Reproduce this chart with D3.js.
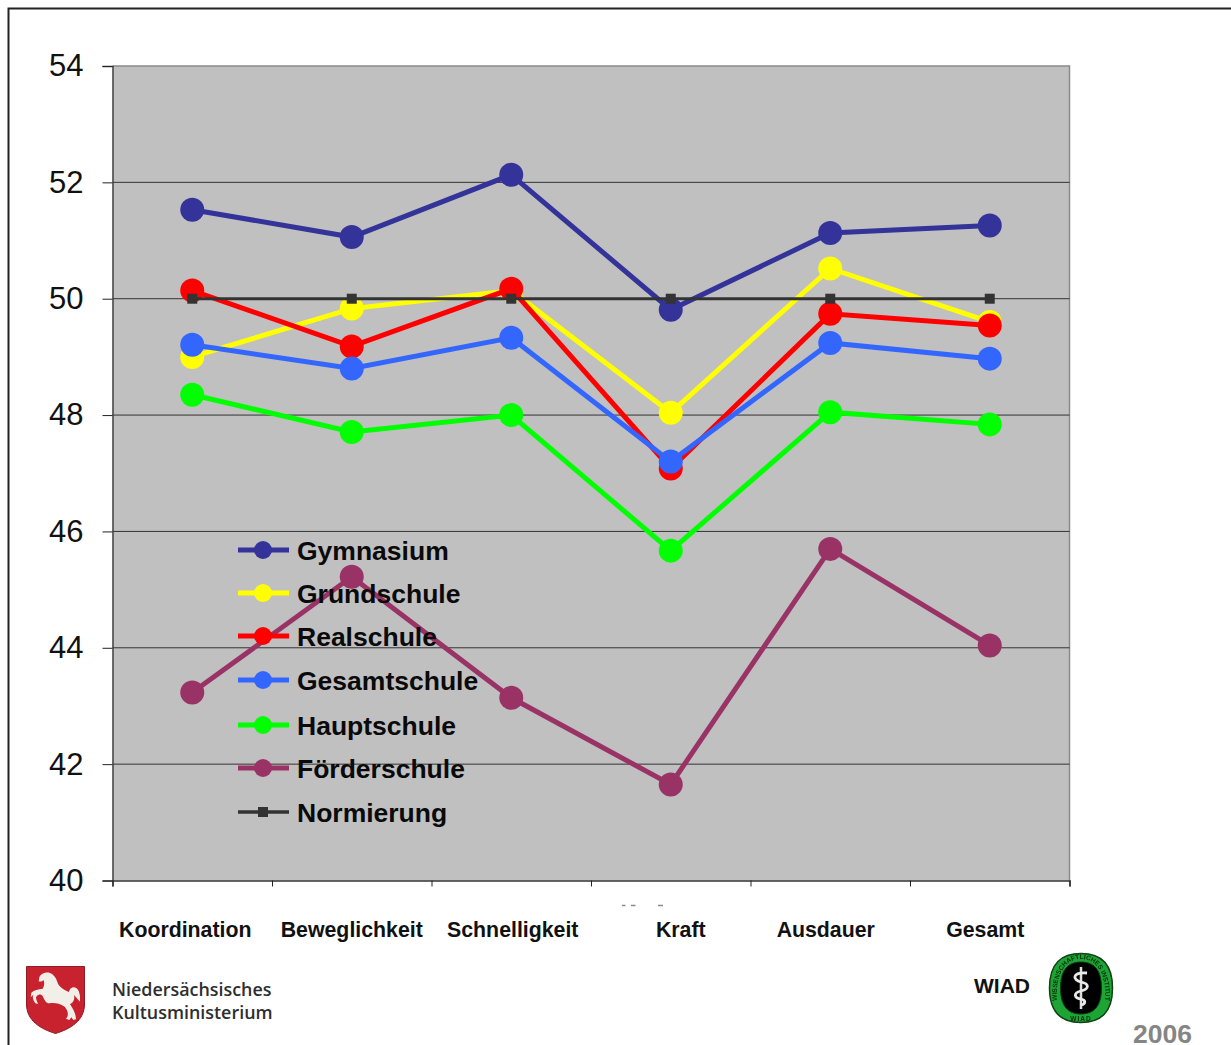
<!DOCTYPE html>
<html>
<head>
<meta charset="utf-8">
<script src="https://cdn.jsdelivr.net/npm/d3@7"></script>
<style>
    html, body { margin: 0; padding: 0; background: #fff; overflow: hidden; }
    svg { display: block; font-family: "Liberation Sans", Arial, sans-serif; }
</style>
</head>
<body>
<svg id="chart-container" width="1231" height="1045"></svg>
<script>
// Werte je Schulform, Reihenfolge wie in categories
const categories = ["Koordination", "Beweglichkeit", "Schnelligkeit", "Kraft", "Ausdauer", "Gesamt"];
const gymnasium = [51.53, 51.06, 52.13, 49.81, 51.13, 51.26];
const grundschule = [49.0, 49.83, 50.14, 48.04, 50.52, 49.6];
const realschule = [50.14, 49.18, 50.17, 47.08, 49.74, 49.54];
const gesamtschule = [49.21, 48.8, 49.33, 47.2, 49.24, 48.97];
const hauptschule = [48.35, 47.71, 48.0, 45.67, 48.05, 47.84];
const foerderschule = [43.23, 45.22, 43.14, 41.65, 45.7, 44.04];
const normierung = [50, 50, 50, 50, 50, 50];
const yTicks = [40, 42, 44, 46, 48, 50, 52, 54];

const seriesNames = ["Gymnasium", "Grundschule", "Realschule", "Gesamtschule", "Hauptschule", "Förderschule", "Normierung"];
const seriesValues = [gymnasium, grundschule, realschule, gesamtschule, hauptschule, foerderschule, normierung];
const seriesColors = ["#333399", "#FFFF00", "#FF0000", "#3366FF", "#00FF00", "#993366", "#333333"];

const svg = d3.select("#chart-container");
const plot = {left: 112.5, right: 1069.5, top: 66, bottom: 880.5};

const scaleX = d3.scaleBand().domain(categories).range([plot.left, plot.right]);
const scaleY = d3.scaleLinear().domain([40, 54]).range([plot.bottom, plot.top]);
const scaleEdges = d3.scaleLinear().domain([0, categories.length]).range([plot.left, plot.right]);

// leichte Unschärfe für die eingesetzten Logos
svg.append("filter").attr("id", "logo-soft")
    .append("feGaussianBlur").attr("stdDeviation", 0.45);

// Rahmen um die ganze Folie (rechts und unten abgeschnitten)
svg.append("path")
    .attr("d", "M8.5,1045V8.5H1231")
    .attr("fill", "none")
    .attr("stroke", "#222")
    .attr("stroke-width", 2);

// Zeichenfläche
svg.append("rect")
    .attr("x", plot.left)
    .attr("y", plot.top)
    .attr("width", plot.right - plot.left)
    .attr("height", plot.bottom - plot.top)
    .attr("fill", "#C0C0C0");
svg.append("path")
    .attr("d", `M${plot.left},${plot.top}H${plot.right}V${plot.bottom}`)
    .attr("fill", "none")
    .attr("stroke", "#8a8a8a")
    .attr("stroke-width", 1.5);

// Gitterlinien
svg.append("g")
    .selectAll("line")
    .data(yTicks.filter(d => d > 40 && d < 54))
    .enter()
    .append("line")
    .attr("x1", plot.left)
    .attr("x2", plot.right)
    .attr("y1", d => scaleY(d))
    .attr("y2", d => scaleY(d))
    .attr("stroke", "#333")
    .attr("stroke-width", 1);

// Achsen
const axisY = svg.append("g")
    .attr("transform", `translate(${plot.left},0)`)
    .call(d3.axisLeft(scaleY).tickValues(yTicks).tickSize(10).tickPadding(19).tickFormat(d3.format("d")));
axisY.selectAll("text").attr("font-size", 31).attr("font-family", "Liberation Sans").attr("fill", "#111");
axisY.selectAll("line").attr("stroke", "#222");
axisY.select(".domain").attr("stroke", "#444").attr("stroke-width", 1.5);

const axisX = svg.append("g")
    .attr("transform", `translate(0,${plot.bottom})`)
    .call(d3.axisBottom(scaleEdges).ticks(categories.length).tickSize(6).tickFormat(""));
axisX.selectAll("line").attr("stroke", "#222");
axisX.select(".domain").attr("stroke", "#333").attr("stroke-width", 1.5);

// Kategorien stehen nicht exakt mittig unter den Abschnitten
const labelShift = [-7, 0, 1.5, 10, -4.5, -4.5];
svg.append("g")
    .selectAll("text")
    .data(categories)
    .enter()
    .append("text")
    .attr("x", (d, i) => scaleX(d) + scaleX.bandwidth() / 2 + labelShift[i])
    .attr("y", 937)
    .attr("text-anchor", "middle")
    .attr("font-size", 21.3)
    .attr("font-weight", "bold")
    .attr("fill", "#111")
    .text(d => d);

// Linien mit Punkten, jede Reihe über der vorherigen
const line = d3.line()
    .x((d, i) => scaleX(categories[i]) + scaleX.bandwidth() / 2)
    .y(d => scaleY(d));

seriesValues.forEach((values, s) => {
    const isNorm = s === seriesValues.length - 1;
    const group = svg.append("g");
    group.append("path")
        .datum(values)
        .attr("fill", "none")
        .attr("stroke", seriesColors[s])
        .attr("stroke-width", isNorm ? 3 : 5)
        .attr("d", line);
    if (isNorm) {
        group.selectAll("rect")
            .data(values)
            .enter()
            .append("rect")
            .attr("x", (d, i) => scaleX(categories[i]) + scaleX.bandwidth() / 2 - 5)
            .attr("y", d => scaleY(d) - 5)
            .attr("width", 10)
            .attr("height", 10)
            .attr("fill", seriesColors[s]);
    } else {
        group.selectAll("circle")
            .data(values)
            .enter()
            .append("circle")
            .attr("cx", (d, i) => scaleX(categories[i]) + scaleX.bandwidth() / 2)
            .attr("cy", d => scaleY(d))
            .attr("r", 12)
            .attr("fill", seriesColors[s]);
    }
});

// Legende innerhalb der Zeichenfläche
const legendY = [550, 593, 636, 680, 725, 768, 812];
const legend = svg.append("g");
seriesNames.forEach((name, s) => {
    const row = legend.append("g").attr("transform", `translate(0,${legendY[s]})`);
    const isNorm = s === seriesNames.length - 1;
    row.append("line")
        .attr("x1", 238)
        .attr("x2", 289)
        .attr("stroke", seriesColors[s])
        .attr("stroke-width", isNorm ? 3.5 : 5);
    if (isNorm) {
        row.append("rect")
            .attr("x", 258)
            .attr("y", -5)
            .attr("width", 10)
            .attr("height", 10)
            .attr("fill", seriesColors[s]);
    } else {
        row.append("circle")
            .attr("cx", 263)
            .attr("r", 9)
            .attr("fill", seriesColors[s]);
    }
    row.append("text")
        .attr("x", 297)
        .attr("y", 10)
        .attr("font-size", 26.5)
        .attr("font-weight", "bold")
        .attr("fill", "#0a0a0a")
        .text(name);
});

// Reste einer abgeschnittenen Beschriftung unter der Achse
svg.append("path")
    .attr("d", "M622,905.5h3.5M631,905.5h4.5M658,905.5h5")
    .attr("stroke", "#8c8c8c")
    .attr("stroke-width", 1.5);

// Wappen Niedersachsen
const crest = svg.append("g")
    .attr("transform", "translate(26,966)")
    .attr("filter", "url(#logo-soft)");
crest.append("path")
    .attr("d", "M0.5,0.5H58.5V38C58.5,55 44,63 29.5,67.5C15,63 0.5,55 0.5,38Z")
    .attr("fill", "#C8202F")
    .attr("stroke", "#8f1a25")
    .attr("stroke-width", 1);
crest.append("path")
    .attr("transform", "translate(-6,-6) scale(0.3333)")
    .attr("d", "M58,52 C62,42 75,36 88,38 C100,42 108,52 112,66 C116,80 130,88 146,96 C150,90 150,84 160,82 C175,82 182,100 180,125 C172,118 168,110 162,105 C165,118 160,128 150,132 C158,145 168,160 168,178 L160,180 L154,172 L148,180 L138,176 C146,168 146,155 134,140 C118,130 105,128 88,130 C78,130 72,118 68,108 C60,100 52,104 48,112 C48,120 52,125 54,132 L46,130 C40,122 36,112 40,104 L32,112 L34,98 C42,90 55,88 68,86 C74,76 74,66 70,60 C66,64 62,66 56,64 Z")
    .attr("fill", "#F2EFE8");

const ministry = ["Niedersächsisches", "Kultusministerium"];
svg.append("clipPath").attr("id", "cut-ministry")
    .append("rect").attr("x", 105).attr("y", 975).attr("width", 168).attr("height", 55);
svg.append("g")
    .attr("clip-path", "url(#cut-ministry)")
    .selectAll("text")
    .data(ministry)
    .enter()
    .append("text")
    .attr("x", 112)
    .attr("y", (d, i) => 996 + i * 23)
    .attr("font-family", "Open Sans")
    .attr("font-weight", 600)
    .attr("font-size", 17.9)
    .attr("fill", "#2e2e2e")
    .text(d => d);

// WIAD-Siegel
svg.append("text")
    .attr("x", 974)
    .attr("y", 993)
    .attr("font-size", 21)
    .attr("font-weight", "bold")
    .attr("fill", "#111")
    .text("WIAD");

const seal = svg.append("g")
    .attr("transform", "translate(1081,988)")
    .attr("filter", "url(#logo-soft)");
const sealPath = (rx, ry) => `M${-rx},0 C${-rx},${-ry * 0.72} ${-rx * 0.62},${-ry} 0,${-ry} C${rx * 0.62},${-ry} ${rx},${-ry * 0.72} ${rx},0 C${rx},${ry * 0.72} ${rx * 0.62},${ry} 0,${ry} C${-rx * 0.62},${ry} ${-rx},${ry * 0.72} ${-rx},0Z`;
seal.append("path").attr("d", sealPath(31.5, 34.5)).attr("fill", "#1FA535").attr("stroke", "#123f18").attr("stroke-width", 1.5);
seal.append("path").attr("d", sealPath(20.5, 26)).attr("fill", "#050505").attr("stroke", "#0c3d14").attr("stroke-width", 1);
seal.append("path").attr("id", "seal-ring").attr("d", "M-24,12 C-26,-16 -14,-29 0,-29 C14,-29 26,-16 24,12").attr("fill", "none");
seal.append("text")
    .attr("font-size", 6.6)
    .attr("font-weight", "bold")
    .attr("fill", "#07300e")
    .append("textPath")
    .attr("href", "#seal-ring")
    .attr("startOffset", "50%")
    .attr("text-anchor", "middle")
    .text("WISSENSCHAFTLICHES INSTITUT");
seal.append("text")
    .attr("y", 33)
    .attr("text-anchor", "middle")
    .attr("font-size", 6.5)
    .attr("font-weight", "bold")
    .attr("letter-spacing", 1)
    .attr("fill", "#07300e")
    .text("WIAD");
seal.append("line").attr("y1", -21).attr("y2", 21).attr("stroke", "#ddd").attr("stroke-width", 2.5);
seal.append("path")
    .attr("d", "M6,-15 C-9,-16 -9,-8 0,-6 C9,-4 8,1 0,3 C-8,5 -7,10 0,11 C5,12 5,16 0,17")
    .attr("fill", "none")
    .attr("stroke", "#eaeaea")
    .attr("stroke-width", 2.8);

svg.append("text")
    .attr("x", 1133)
    .attr("y", 1043)
    .attr("font-size", 26.5)
    .attr("font-weight", "bold")
    .attr("fill", "#858585")
    .text("2006");
</script>
</body>
</html>
